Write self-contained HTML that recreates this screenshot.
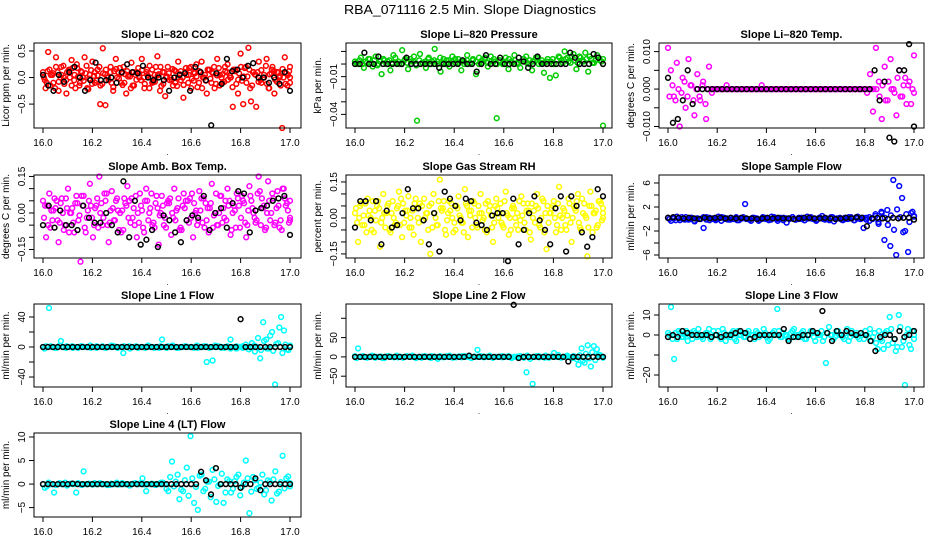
<!DOCTYPE html>
<html><head><meta charset="utf-8"><style>
html,body{margin:0;padding:0;background:#fff;}
svg{display:block;font-family:"Liberation Sans",Arial,sans-serif;}
</style></head><body>
<svg id="chart" width="936" height="540" viewBox="0 0 936 540" xmlns="http://www.w3.org/2000/svg">
<text x="470" y="14" text-anchor="middle" font-size="12.5" textLength="252" lengthAdjust="spacingAndGlyphs">RBA_071116  2.5 Min. Slope Diagnostics</text>
</svg>
<script>
// ---- data (x evenly spaced 16.0..17.0) ----
const xTicks = [16.0,16.2,16.4,16.6,16.8,17.0];
const xTickLabels = ["16.0","16.2","16.4","16.6","16.8","17.0"];

const co2Color = [0.1,-0.2,0.48,0.05,-0.1,0.38,-0.25,0.2,0.0,-0.3,0.15,0.33,-0.05,0.25,-0.15,0.1,0.38,-0.2,0.05,0.3,-0.1,0.15,-0.5,0.55,-0.52,0.0,0.2,-0.25,0.35,0.1,-0.1,0.2,-0.3,0.05,0.28,-0.15,0.1,0.0,0.35,-0.2,0.15,0.22,-0.1,0.05,0.4,-0.25,0.1,-0.35,0.2,0.0,-0.15,0.12,0.3,-0.05,-0.38,0.18,0.05,-0.2,0.1,0.25,-0.1,0.3,0.0,-0.3,0.15,0.1,-0.2,0.35,0.05,-0.1,0.2,0.25,0.0,-0.55,0.15,-0.3,0.45,-0.5,0.2,0.56,-0.45,0.1,-0.55,0.3,-0.1,0.05,0.35,-0.2,0.15,-0.3,0.1,0.0,-0.95,0.38,-0.15,0.2];
const co2ColorB = [0.0,-0.1,0.15,0.05,-0.2,0.1,0.0,0.22,-0.05,0.12,-0.15,0.05,0.18,-0.1,0.0,0.08,-0.22,0.14,0.03,-0.06,0.2,-0.12,0.06,0.0,0.1,-0.18,0.16,-0.02,0.08,-0.1,0.12,0.02,-0.15,0.05,0.18,-0.05,0.0,0.1,-0.2,0.15,-0.08,0.04,0.2,-0.12,0.0,0.08,-0.04,0.14,-0.16,0.06,0.0,0.1,-0.1,0.2,-0.06,0.02,0.12,-0.2,0.05,0.15,-0.02,0.08,-0.12,0.18,0.0,-0.08,0.1,0.04,-0.18,0.12,-0.04,0.2,0.02,-0.1,0.15,-0.15,0.06,0.1,-0.05,0.0,0.22,-0.2,0.08,0.12,-0.08,0.03,0.16,-0.12,0.05,0.0];
const co2ColorC = [-0.05,0.12,-0.15,0.08,0.2,-0.08,0.05,-0.12,0.1,0.0,0.18,-0.2,0.02,0.12,-0.06,0.22,-0.02,-0.12,0.1,0.04,-0.15,0.08,0.15,-0.05,-0.1,0.12,0.0,0.18,-0.14,0.06,0.02,-0.2,0.1,-0.04,0.08,0.14,-0.12,0.04,0.0,-0.08,0.2,0.06,-0.16,0.1,0.02,-0.05,0.16,-0.1,0.0,0.12,-0.14,0.05,0.18,-0.02,0.08,-0.18,0.1,0.0,-0.06,0.14,-0.1,0.2,0.04,-0.15,0.06,0.12,-0.04,0.0,0.15,-0.12,0.08,-0.06,0.18,0.02,-0.2,0.1,0.05,-0.08,0.14,0.0,-0.12,0.06,0.2,-0.04,0.1,-0.15,0.0,0.08,0.12,-0.1];
const co2Black = [0.05,-0.15,-0.25,0.05,-0.08,0.1,0.2,0.0,-0.25,-0.05,0.28,-0.05,-0.05,0.0,-0.1,0.1,0.25,0.1,0.08,0.22,0.0,-0.05,0.0,-0.05,-0.25,0.0,0.05,0.08,-0.25,0.2,0.1,-0.05,-0.9,0.08,-0.12,0.35,0.12,0.15,0.0,0.22,0.27,0.0,0.0,-0.1,0.0,-0.12,0.1,-0.25];

const presColor = [0.002,0.0,0.005,-0.003,0.001,0.004,-0.002,0.006,0.0,-0.008,0.003,0.002,-0.005,0.007,0.001,0.0,0.011,0.004,-0.004,0.002,0.006,-0.045,0.008,0.001,-0.003,0.005,0.002,0.012,0.0,-0.006,0.004,0.003,-0.002,0.006,0.001,0.004,-0.005,0.002,0.007,0.0,0.003,-0.008,0.005,0.001,0.004,-0.002,0.006,0.002,-0.043,0.003,0.0,0.005,-0.004,0.002,0.007,0.001,-0.003,0.004,0.006,0.0,-0.005,0.003,0.005,0.001,-0.007,0.002,-0.011,0.004,-0.009,0.006,0.003,0.010,0.005,0.001,0.008,-0.004,0.006,0.002,0.009,-0.006,0.004,0.001,0.007,0.003,-0.049];
const presColorB = [0.001,0.003,0.0,0.002,0.004,0.001,0.003,-0.001,0.002,0.004,0.0,0.003,0.001,0.005,0.002,0.0,0.003,0.001,0.004,0.002,-0.001,0.003,0.001,0.002,0.004,0.0,0.003,0.002,0.005,0.001,0.0,0.003,0.002,0.004,0.001,0.002,0.0,0.003,0.001,0.004,0.002,0.0,0.003,0.005,0.001,0.002,0.004,0.0,0.003,0.001,0.002,0.004,0.001,0.003,0.0,0.002,0.004,0.001,0.003,0.002,0.005,0.0,0.003,0.001,0.004,0.002,0.0,0.003,0.005,0.001,0.004,0.002,0.006,0.003,0.001,0.005,0.002,0.004,0.006,0.001,0.003,0.005,0.002,0.004];
const presBlack = [0,0,0.009,0,0,0.006,0,0,0,0,0,0.005,0,0,0,0,0,0,-0.003,0,0,0,0,0.003,0,0,-0.006,0,0.007,0,0,0.005,0,0,0,0.005,0.002,-0.003,0,0.006,0,0,0,0,0,0,0.009,0.005,0,0,0,0.008,0.005,0];

const ltempColor = [0.011,0.005,-0.002,0.007,-0.01,0.003,-0.005,0.008,0.001,-0.007,0.004,-0.003,0.002,-0.008,0.006,-0.001,0,0,0,0,0.001,0,0,0,0,0,0,0,0,0,0,0,0.001,0,0,0,0,0,0,0,0,0,0,0,0,0,0,0,0,0,0,0,0,0,0,0,0,0,0,0,0,0,0,0,0,0,0,0,-0.001,0.004,-0.006,0.011,0.002,-0.008,0.006,-0.003,0.008,0.0,-0.007,0.005,-0.002,0.003,0.001,-0.004,0.009];
const ltempColorB = [-0.002,0.001,-0.003,0.0,-0.001,0.002,-0.002,0.001,-0.003,0.0,-0.002,0.001,-0.004,0.0,0,0,0,0,0,0,0,0,0,0,0,0,0,0,0,0,0,0,0,0,0,0,0,0,0,0,0,0,0,0,0,0,0,0,0,0,0,0,0,0,0,0,0,0,0,0,0,0,0,0,0,0,0,0,0,0,-0.002,0.001,-0.003,0.002,0.0,-0.001,0.003,-0.002,0.001,-0.004,0.002,0.0,-0.001];
const ltempBlack = [0.003,-0.009,-0.008,-0.003,0.005,-0.004,0,0,0,0,0,0,0,0,0,0,0,0,0,0,0,0,0,0,0,0,0,0,0,0,0,0,0,0,0,0,0,0,0,0,0,0,0.005,-0.003,0.002,-0.013,-0.014,0.005,0.005,0.012,-0.010];

const ambColor = [0.05,-0.1,0.08,-0.03,0.02,-0.12,0.06,-0.05,0.1,0.0,-0.08,0.04,-0.2,0.07,-0.02,0.12,-0.1,0.03,0.15,-0.05,0.05,-0.12,0.09,-0.03,0.01,-0.08,0.06,0.11,-0.04,0.02,-0.1,0.08,-0.06,0.1,0.0,-0.05,0.04,-0.13,0.07,-0.02,0.05,-0.09,0.1,0.02,-0.06,0.08,-0.03,0.06,-0.1,0.01,0.09,-0.04,0.04,-0.08,0.12,0.0,-0.05,0.07,-0.02,0.1,-0.09,0.03,0.08,-0.06,0.05,-0.1,0.11,0.02,-0.04,0.15,0.06,-0.07,0.13,0.0,-0.05,0.09,-0.03,0.1,0.04,-0.02];
const ambColorB = [-0.02,0.03,-0.06,0.01,0.05,-0.04,0.0,0.06,-0.08,0.02,0.04,-0.03,0.07,-0.06,0.01,0.03,-0.05,0.06,0.0,-0.02,0.08,-0.04,0.02,0.05,-0.07,0.01,0.04,-0.02,0.06,-0.05,0.0,0.03,-0.08,0.05,0.02,-0.04,0.07,-0.01,0.03,-0.06,0.04,0.0,-0.03,0.06,-0.07,0.02,0.05,-0.02,0.04,-0.05,0.01,0.06,-0.03,0.02,-0.06,0.08,0.0,-0.04,0.05,0.03,-0.07,0.01,0.06,-0.02,0.04,-0.05,0.07,0.0,-0.03,0.09,0.02,-0.06,0.05,0.08,-0.04,0.03,-0.07,0.06,0.01,-0.03];
const ambColorC = [0.03,-0.05,0.01,0.06,-0.03,0.04,-0.07,0.02,0.0,-0.04,0.07,-0.01,0.03,-0.08,0.05,-0.02,0.02,-0.06,0.04,0.08,-0.05,0.01,-0.03,0.06,0.0,-0.07,0.03,0.05,-0.02,0.07,-0.04,0.01,0.05,-0.03,0.08,-0.06,0.02,0.0,-0.05,0.04,0.06,-0.02,0.01,-0.07,0.03,0.05,-0.04,0.08,0.0,-0.03,0.06,-0.06,0.02,0.04,-0.01,-0.05,0.07,0.02,-0.03,0.05,0.0,-0.06,0.03,0.07,-0.04,0.01,0.05,-0.02,0.08,-0.05,0.03,0.0,-0.03,0.06,0.02,-0.06,0.1,0.03,-0.04,0.05];
const ambBlack = [-0.05,0.03,-0.06,0.01,-0.05,-0.05,-0.07,0.03,-0.02,-0.04,-0.04,0.0,-0.05,-0.08,0.13,-0.1,0.05,-0.13,-0.11,-0.07,-0.14,-0.01,-0.03,-0.08,-0.12,-0.03,-0.01,-0.02,0.07,-0.07,0.0,0.02,-0.06,0.04,0.09,0.08,-0.08,0.01,0.02,0.03,0.05,0.06,0.07,-0.09];

const rhColor = [0.02,-0.1,0.06,-0.03,0.08,0.0,-0.06,0.05,-0.12,0.1,0.02,-0.05,0.07,-0.02,0.11,-0.08,0.03,0.09,-0.04,0.06,0.0,-0.1,0.08,0.02,-0.15,0.1,-0.03,0.16,0.04,-0.07,0.07,0.0,-0.05,0.09,-0.02,0.12,-0.08,0.03,0.06,-0.04,0.1,0.0,-0.06,0.05,-0.1,0.08,0.02,-0.03,0.11,-0.07,0.04,0.0,-0.05,0.09,-0.02,0.06,-0.09,0.03,0.1,-0.04,0.07,-0.13,0.02,0.05,-0.06,0.13,0.0,-0.03,0.08,-0.1,0.04,0.1,-0.05,0.06,-0.16,0.11,0.02,-0.04,0.07,0.0];
const rhColorB = [0.04,0.0,-0.03,0.06,0.01,-0.05,0.03,0.07,-0.02,0.02,0.05,-0.06,0.0,0.04,-0.03,0.06,0.01,-0.04,0.03,0.08,-0.02,0.05,0.0,-0.05,0.06,0.02,-0.03,0.04,0.07,-0.01,0.03,-0.06,0.05,0.01,-0.02,0.06,0.03,-0.04,0.0,0.05,0.02,-0.05,0.07,0.01,-0.02,0.04,0.06,-0.04,0.02,0.0,0.05,-0.03,0.07,0.01,-0.05,0.03,0.06,-0.02,0.04,0.0,-0.06,0.05,0.02,0.07,-0.03,0.01,0.04,-0.05,0.06,0.0,0.03,-0.02,0.08,0.01,-0.04,0.05,0.02,-0.03,0.06,0.04];
const rhColorC = [-0.02,0.05,0.01,-0.06,0.03,0.07,-0.01,0.04,0.0,-0.04,0.06,0.02,-0.03,0.05,0.08,-0.02,0.03,0.0,-0.07,0.04,0.06,-0.01,0.02,0.05,-0.04,0.0,0.07,0.03,-0.05,0.02,0.06,-0.02,0.04,0.0,-0.06,0.05,0.01,0.07,-0.03,0.02,-0.01,0.06,0.03,-0.04,0.05,0.0,-0.02,0.07,0.01,-0.05,0.04,0.02,-0.01,0.06,0.03,-0.06,0.0,0.05,-0.03,0.08,0.02,-0.02,0.04,0.0,0.06,-0.05,0.03,0.01,-0.02,0.05,0.07,-0.04,0.02,0.0,0.05,-0.06,0.03,0.07,-0.01,0.02];
const rhBlack = [-0.04,0.07,0.07,-0.01,0.07,-0.11,0.03,-0.04,-0.03,0.02,0.12,0.04,0.04,-0.01,-0.11,0.02,-0.14,0.11,0.08,0.05,-0.01,0.08,0.07,-0.02,-0.03,-0.05,0.01,0.02,0.02,-0.18,0.08,-0.11,-0.05,0.02,0.09,-0.01,-0.05,-0.11,0.04,0.09,-0.14,0.09,0.05,-0.06,-0.12,-0.08,0.12,0.09];

const sampColor = [0.2,-0.3,0.1,0.4,-0.2,0.0,0.3,-0.1,0.2,-0.4,0.1,0.0,-1.5,0.3,-0.2,0.1,0.0,0.4,-0.3,0.2,0.1,-0.1,0.0,0.3,-0.2,0.1,2.5,0.0,-0.3,0.2,0.1,-0.1,0.3,0.0,-0.2,0.4,0.1,-0.3,0.0,0.2,-0.6,0.1,0.3,-0.1,0.0,0.2,-0.2,0.4,0.1,0.0,-0.3,0.2,0.5,-0.1,0.0,0.3,-0.4,0.1,0.2,-0.2,0.0,0.3,0.1,-0.2,0.4,0.0,-1.5,0.2,-0.3,0.1,0.8,-0.5,1.2,-3.5,1.5,-4.5,6.5,-6.0,5.5,3.5,-2.0,-5.5,1.0,0.5];
const sampColorB = [0.0,0.2,-0.2,0.1,0.3,-0.1,0.0,0.2,-0.3,0.1,0.0,0.3,-0.1,0.2,0.0,-0.2,0.1,0.3,0.0,-0.1,0.2,0.0,-0.2,0.1,0.3,0.0,-0.1,0.2,0.1,-0.3,0.0,0.2,0.1,-0.1,0.3,0.0,0.2,-0.2,0.1,0.0,0.3,-0.1,0.2,0.0,-0.2,0.1,0.3,0.0,-0.1,0.2,0.0,0.1,-0.2,0.3,0.0,0.1,-0.1,0.2,0.0,0.3,-0.2,0.1,0.0,0.2,-0.1,0.3,0.0,0.5,-0.8,1.0,0.2,-1.0,0.6,-1.8,1.6,0.3,-2.2,0.8,-0.5,1.2,0.4];
const sampBlack = [0.2,0.3,0.2,0.1,0.2,0.1,0.0,0.2,0.1,0.2,0.2,0.1,0.2,0.1,0.2,0.1,0.1,0.0,0.1,0.2,0.1,0.2,0.1,0.1,0.0,0.1,0.2,0.2,0.1,0.1,0.2,0.1,0.0,0.1,0.2,0.1,0.3,0.2,-1.2,0.1,0.2,0.1,0.0,0.2,0.1,0.2,0.2,-0.1];

const l1Color = [0,1,52,0,-1,0,8,0,1,0,-1,0,0,1,0,0,-1,0,1,0,0,-1,0,0,1,0,0,-8,0,1,0,0,-1,0,0,1,0,0,0,-1,10,0,1,0,0,-1,0,0,1,0,0,0,-1,0,1,-20,0,-18,0,1,0,-1,0,10,0,-2,0,1,0,0,-1,2,0,-15,33,10,-2,20,-50,5,40,22,-3,0];
const l1ColorB = [-2,0,1,0,-1,2,0,-1,0,1,0,-1,1,0,0,2,0,-1,0,1,-1,0,2,0,-1,0,1,0,-2,0,1,0,0,-1,2,0,-1,0,1,0,-1,0,2,0,-1,0,1,0,0,-1,2,0,0,1,-1,0,2,0,-1,0,1,-2,0,1,0,-1,3,-3,5,-6,12,-4,8,-2,15,-5,4,26,-8,3,-4,2];
const l1Black = [0,0,0,0,0,0,0,0,0,0,0,0,0,0,0,0,0,0,0,0,0,0,0,0,0,0,0,0,0,0,0,0,0,0,0,0,0,0,0,0,37,0,0,0,0,0,0,0,0,0,0];

const l2Color = [2,22,0,0,-2,0,2,0,0,-3,0,2,0,0,-1,0,0,2,0,0,-3,0,1,0,0,2,0,-5,0,0,2,0,0,-1,0,2,0,0,-2,0,18,0,1,0,0,-2,0,0,2,0,0,-1,0,0,2,0,-40,0,-70,0,2,0,-2,0,1,10,0,-1,0,2,0,-3,0,-20,22,-15,30,-25,28,20,5,0];
const l2ColorB = [-3,0,2,-1,0,3,-2,0,1,-3,2,0,-1,3,0,-2,1,0,3,-1,0,-2,2,0,-3,1,0,2,-1,0,3,-2,0,1,-1,2,0,-3,1,0,2,-1,0,3,-2,0,1,-1,0,2,-3,0,1,0,-2,3,-5,0,2,-1,0,3,-2,1,0,5,-2,0,3,-1,2,-6,4,-10,8,-4,12,-8,6,2,-2];
const l2Black = [0,0,0,0,0,0,0,0,0,0,0,0,0,0,0,0,0,0,0,0,0,0,0,3,0,0,0,0,0,0,0,0,135,-3,0,0,0,0,0,0,0,0,0,-12,0,0,0,0,0,0,0];

const l3Color = [1,14,-12,-2,1,-1,2,0,-2,1,3,-1,0,1,-2,2,0,-1,3,-3,0,1,-2,2,0,-1,1,-2,0,2,-1,0,1,-3,0,2,13,-1,1,0,-2,2,-1,0,1,-2,0,2,-1,1,0,-3,-14,4,0,-1,2,0,-2,3,-1,0,1,-2,0,2,-1,-3,1,-7,-2,-7,2,9,-4,-8,10,-6,-25,3,-7,0];
const l3ColorB = [0,-2,1,2,-1,0,-3,1,2,-1,0,-2,1,3,-1,0,2,-2,1,0,-1,2,-3,0,1,-1,2,0,-2,1,0,3,-1,-2,1,0,2,-1,0,-2,1,3,0,-1,2,-2,0,1,-3,0,2,-1,1,0,-2,2,0,-1,1,-3,2,0,-1,1,-2,0,3,-1,-4,2,-3,1,-5,3,-2,-6,4,-3,0,-5,2,-2];
const l3Black = [-1,0,-1,2,1,0,0,0,0,-1,0,-1,0,0,1,2,1,-2,-1,0,0,0,0,0,3,-3,-1,-1,0,0,2,1,12,1,-3,2,0,2,1,0,1,0,-3,-8,-1,0,0,-2,2,-1,0,2];

const l4Color = [0,-0.5,0,-1.8,0,0,0.3,0,0,-1.8,0,2.7,0,0,0.2,0,0,0,-0.2,0,0.3,0,0,0,0,0.2,0,1.2,-1.5,0,0,0,0.3,0,-1.5,4.8,0.5,-3.2,-1.5,3.5,10.2,-4,-5.5,2,-1,0.5,3,-3.8,0,-4,1,-1.8,0.6,2,-0.5,5,-6.2,1.5,-1,0.3,-2.2,0.8,-3.5,2.7,-1.6,6,1.2,-0.5];
const l4ColorB = [-0.8,0.3,0,-0.2,0.2,0,-0.3,0.1,0,0.2,-0.2,0,0.1,-0.1,0,0.2,0,-0.2,0.1,0,-0.1,0.2,0,-0.3,0.1,0,0.2,-0.1,0,0.1,-0.2,0,0.3,-1,1.5,-0.5,2,-1.2,0.8,-2.5,1.2,-0.6,1.8,-1.5,0.5,-2.8,1,-0.4,2.2,-1.8,0.6,-1,1.5,-2.4,0.3,1.2,-1.6,0.8,-0.8,2,-1.3,0.5,1,-2,0.4,-0.9,1.6,0.2];
const l4Black = [0,0,0,0,0,0,0.1,0,0,0,0,0,0,0,0,0,0,0,0,0,0,0,0,0,0,0,0,0,0,0,0,0,2.6,0.8,-2.2,3.4,0,0,0,0,-0.8,0,0,1.2,-1.3,0,0,0,0,0,0];

// ---- layout ----
const cols = [{l:34,r:301,x0:43,x1:290},{l:346,r:612,x0:355,x1:603},{l:659,r:924,x0:668,x1:914}];
const rows = [{t:43,b:128},{t:175,b:258},{t:304,b:387},{t:433,b:517}];

const panels = [
 {name:"co2",title:"Slope Li\u2013820 CO2",ylab:"Licor ppm per min.",c:0,r:0,ymin:-0.95,ymax:0.65,ticks:[0.5,0,-0.5],labels:["0.5","0.0","\u22120.5"],col:"#ff0000",data:[co2Color,co2ColorB,co2ColorC],black:co2Black},
 {name:"pressure",title:"Slope Li\u2013820 Pressure",ylab:"kPa per min.",c:1,r:0,ymin:-0.0508,ymax:0.0167,ticks:[0.01,0,-0.01,-0.02,-0.03,-0.04],labels:["","","\u22120.01","","","\u22120.04"],col:"#00cc00",data:[presColor,presColorB],black:presBlack},
 {name:"li-temp",title:"Slope Li\u2013820 Temp.",ylab:"degrees C per min.",c:2,r:0,ymin:-0.0104,ymax:0.0123,ticks:[0.01,0.005,0,-0.005,-0.01],labels:["0.010","","0.000","","\u22120.010"],col:"#ff00ff",data:[ltempColor,ltempColorB],black:ltempBlack},
 {name:"amb-box-temp",title:"Slope Amb. Box Temp.",ylab:"degrees C per min.",c:0,r:1,ymin:-0.185,ymax:0.156,ticks:[0.15,0.1,0.05,0,-0.05,-0.1,-0.15],labels:["0.15","","","0.00","","","\u22120.15"],col:"#ff00ff",data:[ambColor,ambColorB,ambColorC],black:ambBlack},
 {name:"gas-rh",title:"Slope Gas Stream RH",ylab:"percent per min.",c:1,r:1,ymin:-0.167,ymax:0.179,ticks:[0.15,0.1,0.05,0,-0.05,-0.1,-0.15],labels:["0.15","","","0.00","","","\u22120.15"],col:"#ffff00",data:[rhColor,rhColorB,rhColorC],black:rhBlack},
 {name:"sample-flow",title:"Slope Sample Flow",ylab:"ml/min per min.",c:2,r:1,ymin:-6.5,ymax:7.33,ticks:[6,4,2,0,-2,-4,-6],labels:["6","","2","","\u22122","","\u22126"],col:"#0000ff",data:[sampColor,sampColorB],black:sampBlack},
 {name:"line1-flow",title:"Slope Line 1 Flow",ylab:"ml/min per min.",c:0,r:2,ymin:-53.3,ymax:57.3,ticks:[40,20,0,-20,-40],labels:["40","","0","","\u221240"],col:"#00ffff",data:[l1Color,l1ColorB],black:l1Black},
 {name:"line2-flow",title:"Slope Line 2 Flow",ylab:"ml/min per min.",c:1,r:2,ymin:-78,ymax:137,ticks:[100,50,0,-50],labels:["","50","0","\u221250"],col:"#00ffff",data:[l2Color,l2ColorB],black:l2Black},
 {name:"line3-flow",title:"Slope Line 3 Flow",ylab:"ml/min per min.",c:2,r:2,ymin:-26,ymax:15.5,ticks:[10,0,-10,-20],labels:["10","0","","\u221220"],col:"#00ffff",data:[l3Color,l3ColorB],black:l3Black},
 {name:"line4-flow",title:"Slope Line 4 (LT) Flow",ylab:"ml/min per min.",c:0,r:3,ymin:-7.0,ymax:10.85,ticks:[10,5,0,-5],labels:["10","5","0","\u22125"],col:"#00ffff",data:[l4Color,l4ColorB],black:l4Black}
];

const svg = document.getElementById('chart');
const NS = "http://www.w3.org/2000/svg";
function mk(tag, attrs, parent){
  const e = document.createElementNS(NS, tag);
  for (const k in attrs) e.setAttribute(k, attrs[k]);
  parent.appendChild(e);
  return e;
}

panels.forEach(p => {
  const C = cols[p.c], R = rows[p.r];
  const xs = v => C.x0 + (v - 16) / (17 - 16) * (C.x1 - C.x0);
  const ys = v => R.b - (v - p.ymin) / (p.ymax - p.ymin) * (R.b - R.t);
  const g = mk('g', {}, svg);
  
  

  const t = mk('text', {x:(C.l+C.r)/2, y:R.t-5, 'text-anchor':'middle', 'font-size':'11', 'font-weight':'bold'}, g);
  t.textContent = p.title;
  
  

  const yl = mk('text', {x:0, y:0, 'text-anchor':'middle', 'font-size':'10', transform:`translate(${C.l-25},${(R.t+R.b)/2}) rotate(-90)`}, g);
  yl.textContent = p.ylab;
  
  

  const drawSeries = (arr, color, nm, off) => {
    const sg = mk('g', {fill:'none', stroke:color, 'stroke-width':'1.5'}, g);
    
    
    const n = arr.length;
    arr.forEach((v, i) => {
      const xv = 16 + Math.min(1, (i + off) / (n - 1));
      const c = mk('circle', {cx:xs(xv).toFixed(1), cy:ys(v).toFixed(1), r:'2.4'}, sg);
      
      
    });
  };
  p.data.forEach((arr, k) => drawSeries(arr, p.col, p.name + '-series', k / p.data.length));
  drawSeries(p.black, '#000', p.name + '-black-series', 0);

  const fr = mk('rect', {x:C.l, y:R.t, width:C.r-C.l, height:R.b-R.t, fill:'none', stroke:'#000', 'stroke-width':'1'}, g);
  
  

  p.ticks.forEach((v, i) => {
    const y = ys(v);
    const tk = mk('line', {x1:C.l-5, x2:C.l, y1:y, y2:y, stroke:'#000'}, g);
    
    
    if (p.labels[i]) {
      const lb = mk('text', {x:0, y:0, 'text-anchor':'middle', 'font-size':'10', transform:`translate(${C.l-9},${y}) rotate(-90)`}, g);
      lb.textContent = p.labels[i];
      
      
    }
  });
  xTicks.forEach((v, i) => {
    const x = xs(v);
    const tk = mk('line', {x1:x, x2:x, y1:R.b, y2:R.b+5, stroke:'#000'}, g);
    
    
    const lb = mk('text', {x:x, y:R.b+18, 'text-anchor':'middle', 'font-size':'10'}, g);
    lb.textContent = xTickLabels[i];
    
    
  });
  const dot = mk('text', {x:(C.l+C.r)/2, y:R.b+27, 'text-anchor':'middle', 'font-size':'8'}, g);
  dot.textContent = '.';
  
  
});
</script>
</body></html>
